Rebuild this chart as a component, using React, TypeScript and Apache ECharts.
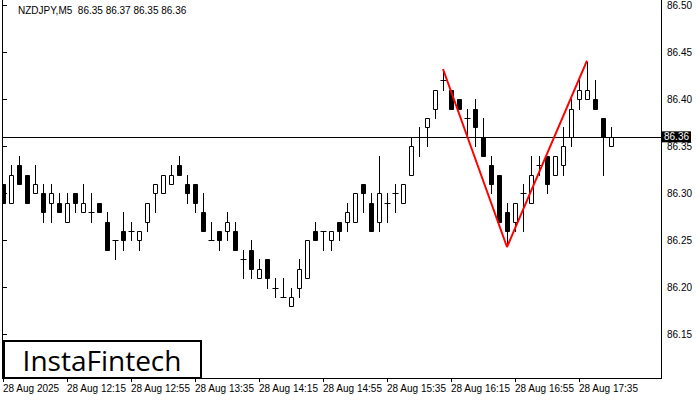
import React, { useEffect, useRef } from "react";
import * as echarts from "echarts";

const times = [
  "11:35","11:40","11:45","11:50","11:55","12:00","12:05","12:10","12:15","12:20",
  "12:25","12:30","12:35","12:40","12:45","12:50","12:55","13:00","13:05","13:10",
  "13:15","13:20","13:25","13:30","13:35","13:40","13:45","13:50","13:55","14:00",
  "14:05","14:10","14:15","14:20","14:25","14:30","14:35","14:40","14:45","14:50",
  "14:55","15:00","15:05","15:10","15:15","15:20","15:25","15:30","15:35","15:40",
  "15:45","15:50","15:55","16:00","16:05","16:10","16:15","16:20","16:25","16:30",
  "16:35","16:40","16:45","16:50","16:55","17:00","17:05","17:10","17:15","17:20",
  "17:25","17:30","17:35","17:40","17:45","17:50","17:55",
];

const opens = [
  86.31,86.29,86.33,86.32,86.30,86.30,86.29,86.29,86.27,86.30,
  86.28,86.28,86.29,86.27,86.25,86.26,86.26,86.25,86.27,86.30,
  86.30,86.31,86.33,86.31,86.31,86.28,86.25,86.26,86.26,86.26,
  86.23,86.24,86.21,86.23,86.20,86.19,86.18,86.20,86.21,86.26,
  86.26,86.25,86.27,86.27,86.27,86.31,86.29,86.27,86.29,86.30,
  86.29,86.32,86.36,86.37,86.39,86.42,86.41,86.40,86.38,86.39,
  86.36,86.33,86.32,86.28,86.27,86.30,86.29,86.33,86.34,86.32,
  86.33,86.36,86.40,86.40,86.40,86.38,86.35,
];
const highs = [
  86.31,86.33,86.34,86.32,86.33,86.31,86.31,86.30,86.30,86.30,
  86.31,86.30,86.29,86.28,86.25,86.28,86.27,86.26,86.29,86.31,
  86.32,86.33,86.34,86.32,86.31,86.30,86.27,86.26,86.28,86.27,
  86.24,86.25,86.23,86.23,86.21,86.21,86.20,86.23,86.25,86.27,
  86.26,86.26,86.27,86.29,86.30,86.31,86.30,86.34,86.30,86.31,
  86.31,86.36,86.37,86.38,86.41,86.43,86.41,86.40,86.39,86.40,
  86.38,86.34,86.32,86.29,86.29,86.31,86.34,86.34,86.34,86.34,
  86.37,86.40,86.42,86.44,86.42,86.38,86.37,
];
const lows = [
  86.29,86.29,86.31,86.29,86.30,86.27,86.27,86.28,86.27,86.28,
  86.28,86.27,86.28,86.24,86.23,86.24,86.25,86.24,86.26,86.28,
  86.30,86.31,86.32,86.29,86.28,86.26,86.25,86.24,86.25,86.24,
  86.21,86.21,86.21,86.20,86.19,86.19,86.18,86.19,86.21,86.25,
  86.24,86.24,86.25,86.26,86.27,86.28,86.26,86.26,86.27,86.28,
  86.29,86.32,86.34,86.35,86.38,86.41,86.39,86.39,86.36,86.35,
  86.34,86.30,86.27,86.245,86.26,86.26,86.29,86.32,86.30,86.32,
  86.32,86.35,86.39,86.40,86.39,86.32,86.35,
];
const closes = [
  86.29,86.32,86.31,86.29,86.31,86.28,86.30,86.28,86.29,86.29,
  86.29,86.28,86.28,86.24,86.25,86.25,86.26,86.26,86.29,86.31,
  86.32,86.32,86.32,86.30,86.29,86.26,86.25,86.25,86.27,86.24,
  86.23,86.22,86.22,86.21,86.20,86.19,86.19,86.22,86.25,86.25,
  86.26,86.26,86.26,86.28,86.30,86.30,86.26,86.30,86.29,86.30,
  86.31,86.35,86.36,86.38,86.41,86.42,86.39,86.39,86.38,86.37,
  86.34,86.31,86.27,86.26,86.29,86.30,86.32,86.33,86.31,86.34,
  86.35,86.39,86.41,86.41,86.39,86.36,86.36,
];

const xTickIndices = [0, 8, 16, 24, 32, 40, 48, 56, 64, 72];
const yTickValues = [86.15, 86.2, 86.25, 86.3, 86.35, 86.4, 86.45, 86.5];
const currentPrice = 86.36;

const patternX = [55, 63, 73];
const patternY = [86.432, 86.243, 86.441];

const title = "NZDJPY,M5  86.35 86.37 86.35 86.36";
const dateLabel = "28 Aug 2025";
const datePrefix = "28 Aug ";

export default function App() {
  const ref = useRef<HTMLDivElement>(null);

  useEffect(() => {
    if (!ref.current) return;
    const chart = echarts.init(ref.current, null, { renderer: "svg" });
    const candleData = times.map((_, i) => [i, opens[i], highs[i], lows[i], closes[i]]);
    const patternData = patternX.map((x, i) => [x, patternY[i]]);
    const font = "Liberation Sans, Arial, sans-serif";

    const option: any = {
      animation: false,
      backgroundColor: "#ffffff",
      grid: { left: 2, right: 39, top: 3, bottom: 22, show: false },
      xAxis: {
        type: "value",
        min: -0.125,
        max: 82.25,
        axisLine: { show: false },
        splitLine: { show: false },
        axisTick: {
          show: true,
          customValues: xTickIndices,
          length: 4,
          lineStyle: { color: "#000" },
        },
        axisLabel: {
          show: true,
          customValues: xTickIndices,
          formatter: (v: number) => {
            const i = Math.round(v);
            return i === 0 ? dateLabel : datePrefix + times[i];
          },
          align: "left",
          margin: 5,
          color: "#000",
          fontSize: 10,
          fontFamily: font,
        },
      },
      yAxis: {
        type: "value",
        position: "right",
        min: 86.1039,
        max: 86.5011,
        scale: true,
        axisLine: { show: false },
        splitLine: { show: false },
        axisTick: {
          show: true,
          customValues: yTickValues,
          length: 4,
          lineStyle: { color: "#000" },
        },
        axisLabel: {
          show: true,
          customValues: yTickValues,
          formatter: (v: number) => v.toFixed(2),
          margin: 6,
          color: "#000",
          fontSize: 10,
          fontFamily: font,
        },
      },
      graphic: [
        { type: "line", shape: { x1: 2.5, y1: 0, x2: 2.5, y2: 378 }, style: { stroke: "#000", lineWidth: 1 }, z: 100 },
        { type: "line", shape: { x1: 661.5, y1: 0, x2: 661.5, y2: 378.5 }, style: { stroke: "#000", lineWidth: 1 }, z: 100 },
        { type: "line", shape: { x1: 2, y1: 378.5, x2: 662, y2: 378.5 }, style: { stroke: "#000", lineWidth: 1 }, z: 100 },
        {
          type: "text",
          left: 18,
          top: 5,
          style: { text: title, fill: "#000", font: "10px " + font },
          z: 100,
        },
        {
          type: "rect",
          shape: { x: 4, y: 341, width: 197, height: 37 },
          style: { fill: "#fff", stroke: "#000", lineWidth: 2 },
          z: 100,
        },
        {
          type: "text",
          x: 102,
          y: 360,
          style: {
            text: "InstaFintech",
            fill: "#000",
            font: "28px 'Open Sans', sans-serif",
            textAlign: "center",
            textVerticalAlign: "middle",
          },
          z: 101,
        },
      ],
      series: [
        {
          type: "custom",
          clip: true,
          data: candleData,
          encode: { x: 0, y: [1, 2, 3, 4] },
          renderItem: (params: any, api: any) => {
            const k = api.value(0);
            const o = api.value(1);
            const h = api.value(2);
            const l = api.value(3);
            const c = api.value(4);
            const pO = api.coord([k, o]);
            const pC = api.coord([k, c]);
            const pH = api.coord([k, h]);
            const pL = api.coord([k, l]);
            const x = Math.round(pO[0]) + 0.5;
            const children: any[] = [
              {
                type: "line",
                shape: { x1: x, y1: Math.round(pH[1]), x2: x, y2: Math.round(pL[1]) + 1 },
                style: { stroke: "#000", lineWidth: 1 },
              },
            ];
            if (o === c) {
              const y = Math.round(pO[1]) + 0.5;
              children.push({
                type: "line",
                shape: { x1: x - 3, y1: y, x2: x + 3, y2: y },
                style: { stroke: "#000", lineWidth: 1 },
              });
            } else {
              const top = Math.round(Math.min(pO[1], pC[1])) + 0.5;
              const bot = Math.round(Math.max(pO[1], pC[1])) + 0.5;
              children.push({
                type: "rect",
                shape: { x: x - 2, y: top, width: 4, height: bot - top },
                style: { fill: c > o ? "#fff" : "#000", stroke: "#000", lineWidth: 1 },
              });
            }
            return { type: "group", children };
          },
          markLine: {
            silent: true,
            symbol: "none",
            animation: false,
            lineStyle: { color: "#000", width: 1, type: "solid" },
            label: {
              show: true,
              position: "end",
              distance: 1,
              formatter: currentPrice.toFixed(2),
              backgroundColor: "#000",
              color: "#fff",
              padding: [1, 2, 0, 2],
              fontSize: 10,
              fontFamily: font,
            },
            data: [{ yAxis: currentPrice }],
          },
          z: 2,
        },
        {
          type: "line",
          data: patternData,
          showSymbol: false,
          symbol: "none",
          lineStyle: { color: "#ff0000", width: 2 },
          z: 5,
        },
      ],
    };
    chart.setOption(option);
    return () => chart.dispose();
  }, []);

  return (
    <div
      ref={ref}
      style={{ position: "absolute", left: 0, top: 0, width: 700, height: 400 }}
    />
  );
}
